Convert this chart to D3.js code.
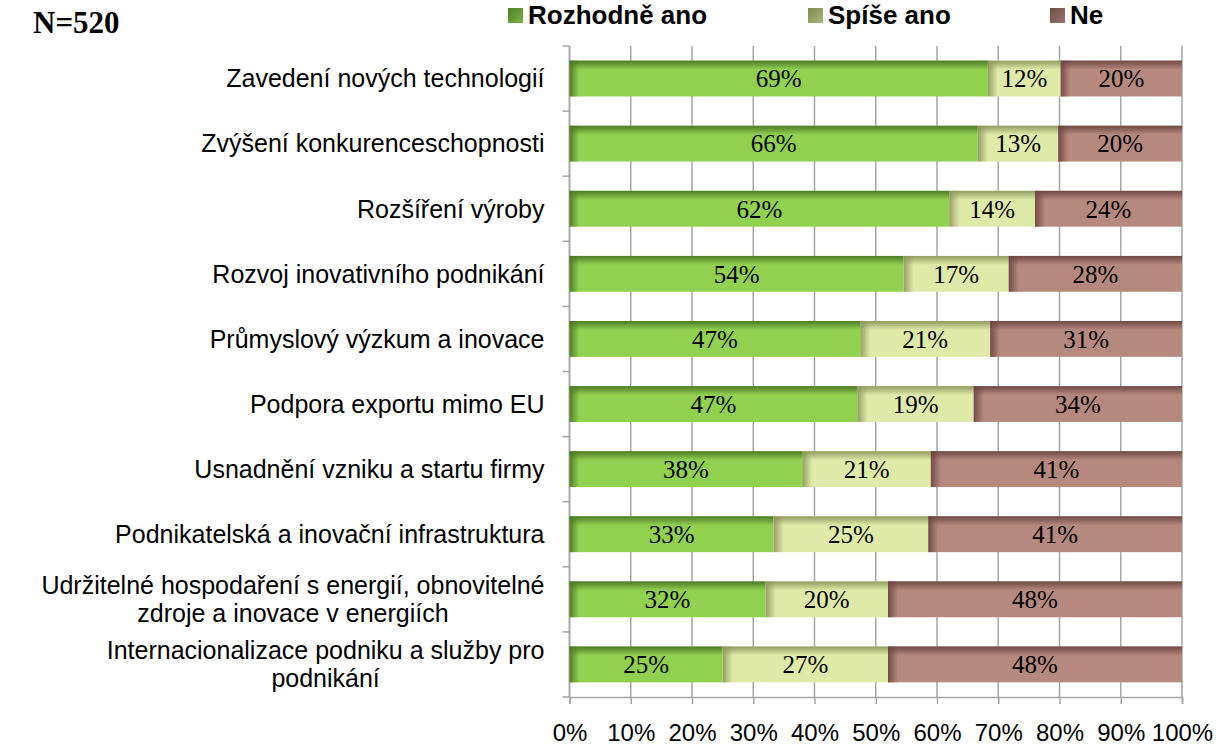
<!DOCTYPE html>
<html>
<head>
<meta charset="utf-8">
<script src="https://cdn.jsdelivr.net/npm/d3@7"></script>
<style>
	body { margin: 0; background: #fff; }
	svg { display: block; }
</style>
</head>
<body>
<div class="svg-container"></div>
<script>
(function () {

	"use strict";

	// data
	var categories = [
		"Zavedení nových technologií",
		"Zvýšení konkurenceschopnosti",
		"Rozšíření výroby ",
		"Rozvoj inovativního podnikání",
		"Průmyslový výzkum a inovace",
		"Podpora exportu mimo EU",
		"Usnadnění vzniku a startu firmy",
		"Podnikatelská a inovační infrastruktura",
		"Udržitelné hospodaření s energií, obnovitelné|zdroje a inovace v energiích",
		"Internacionalizace podniku a služby pro|podnikání"
	];
	var series_names 	= [ "Rozhodně ano", "Spíše ano", "Ne" ];
	var rozhodne_ano 	= [ 69, 66, 62, 54, 47, 47, 38, 33, 32, 25 ];
	var spise_ano 		= [ 12, 13, 14, 17, 21, 19, 21, 25, 20, 27 ];
	var ne 				= [ 20, 20, 24, 28, 31, 34, 41, 41, 48, 48 ];
	var x_ticks 		= [ 0, .1, .2, .3, .4, .5, .6, .7, .8, .9, 1 ];

	// colors
	var fills 	= [ "#92d050", "#dfeaa9", "#b5897e" ];
	var shades 	= [ "#4a7524", "#8c965c", "#6a4640" ];
	var legend_fills = [ [ "#4e7d28", "#7fb243" ], [ "#7d8a52", "#a9b878" ], [ "#6e4c46", "#9a7570" ] ];

	var sans = "'Liberation Sans', Arial, sans-serif",
		serif = "'Liberation Serif', 'Times New Roman', serif";

	var canvas_width 	= 1225,
		canvas_height 	= 748,
		margin 			= { "top": 46, "right": 43, "bottom": 51, "left": 569.5 };

	var width = canvas_width - margin.left - margin.right,
		height = canvas_height - margin.top - margin.bottom;

	var rows = categories.map(function (c, i) {
		return { "cat": c, "0": rozhodne_ano[i], "1": spise_ano[i], "2": ne[i] };
	});

	var stack = d3.stack()
		.keys([ "0", "1", "2" ])
		.offset(d3.stackOffsetExpand);
	var layers = stack(rows);

	var x = d3.scaleLinear().domain([0, 1]).range([0, width]);
	var y = d3.scaleBand().domain(categories).range([0, height]).paddingInner(.45).paddingOuter(.225);

	var svg = d3.select(".svg-container").append("svg")
		.attr("width", canvas_width)
		.attr("height", canvas_height);

	var defs = svg.append("defs");
	fills.forEach(function (f, i) {
		var top = defs.append("linearGradient").attr("id", "top" + i)
			.attr("x1", 0).attr("y1", 0).attr("x2", 0).attr("y2", 1);
		top.append("stop").attr("offset", "0%").attr("stop-color", shades[i]).attr("stop-opacity", .95);
		top.append("stop").attr("offset", "100%").attr("stop-color", shades[i]).attr("stop-opacity", 0);
		var left = defs.append("linearGradient").attr("id", "left" + i)
			.attr("x1", 0).attr("y1", 0).attr("x2", 1).attr("y2", 0);
		left.append("stop").attr("offset", "0%").attr("stop-color", shades[i]).attr("stop-opacity", .9);
		left.append("stop").attr("offset", "100%").attr("stop-color", shades[i]).attr("stop-opacity", 0);
		var leg = defs.append("linearGradient").attr("id", "leg" + i)
			.attr("x1", 0).attr("y1", 0).attr("x2", 1).attr("y2", 1);
		leg.append("stop").attr("offset", "0%").attr("stop-color", legend_fills[i][0]);
		leg.append("stop").attr("offset", "100%").attr("stop-color", legend_fills[i][1]);
	});

	var g = svg.append("g")
		.attr("transform", "translate(" + margin.left + "," + margin.top + ")");

	// grid
	g.selectAll(".grid")
		.data(x_ticks)
		.enter()
		.append("line")
		.attr("class", "grid")
		.attr("x1", function (d) { return x(d); })
		.attr("x2", function (d) { return x(d); })
		.attr("y1", 0)
		.attr("y2", height)
		.attr("stroke", "#a5a5a5")
		.attr("stroke-width", 1.5);

	// x axis
	var xAxis = g.append("g")
		.attr("transform", "translate(0," + height + ")")
		.call(d3.axisBottom(x).tickValues(x_ticks).tickFormat(d3.format(".0%")).tickSize(7).tickPadding(20));
	xAxis.selectAll("line, path").attr("stroke", "#a5a5a5").attr("stroke-width", 1.5);
	xAxis.selectAll("text")
		.attr("font-family", sans)
		.attr("font-size", 24)
		.attr("fill", "#000");

	// y axis line + boundary ticks
	g.append("line")
		.attr("x1", 0).attr("x2", 0).attr("y1", 0).attr("y2", height)
		.attr("stroke", "#a5a5a5").attr("stroke-width", 1.5);
	g.selectAll(".ytick")
		.data(d3.range(categories.length + 1))
		.enter()
		.append("line")
		.attr("class", "ytick")
		.attr("x1", -7).attr("x2", 0)
		.attr("y1", function (d) { return d * y.step(); })
		.attr("y2", function (d) { return d * y.step(); })
		.attr("stroke", "#a5a5a5").attr("stroke-width", 1.5);

	// bars
	var layer = g.selectAll(".layer")
		.data(layers)
		.enter()
		.append("g")
		.attr("class", "layer");

	var seg = layer.selectAll(".seg")
		.data(function (d) { return d.map(function (p) { p.key = d.key; return p; }); })
		.enter()
		.append("g")
		.attr("class", "seg");

	seg.append("rect")
		.attr("x", function (d) { return x(d[0]); })
		.attr("y", function (d) { return y(d.data.cat); })
		.attr("width", function (d) { return x(d[1]) - x(d[0]); })
		.attr("height", y.bandwidth())
		.attr("fill", function (d) { return fills[+d.key]; });

	seg.append("rect")
		.attr("x", function (d) { return x(d[0]); })
		.attr("y", function (d) { return y(d.data.cat); })
		.attr("width", function (d) { return x(d[1]) - x(d[0]); })
		.attr("height", y.bandwidth() * .25)
		.attr("fill", function (d) { return "url(#top" + d.key + ")"; });

	seg.append("rect")
		.attr("x", function (d) { return x(d[0]); })
		.attr("y", function (d) { return y(d.data.cat); })
		.attr("width", function (d) { return Math.min(10, x(d[1]) - x(d[0])); })
		.attr("height", y.bandwidth())
		.attr("fill", function (d) { return "url(#left" + d.key + ")"; });

	seg.append("text")
		.attr("x", function (d) { return (x(d[0]) + x(d[1])) / 2; })
		.attr("y", function (d) { return y(d.data.cat) + y.bandwidth() / 2; })
		.attr("dy", "0.35em")
		.attr("text-anchor", "middle")
		.attr("font-family", serif)
		.attr("font-size", 25)
		.attr("fill", "#000")
		.text(function (d) { return d.data[d.key] + "%"; });

	// category labels (wrapped lines are centred on each other, block right-aligned)
	var line_h = 28;
	var labels = g.selectAll(".cat")
		.data(categories)
		.enter()
		.append("text")
		.attr("class", "cat")
		.attr("font-family", sans)
		.attr("font-size", 25)
		.attr("fill", "#000")
		.attr("text-anchor", "middle");

	labels.each(function (d) {
		var el = d3.select(this),
			lines = d.split("|"),
			cy = y(d) + y.bandwidth() / 2,
			tmp = [];
		lines.forEach(function (l, i) {
			tmp.push(el.append("tspan").text(l)
				.attr("y", cy + (i - (lines.length - 1) / 2) * line_h)
				.attr("dy", "0.35em"));
		});
		var w = d3.max(tmp, function (t) { return t.node().getComputedTextLength(); });
		var cx = -25 - w / 2;
		tmp.forEach(function (t) { t.attr("x", cx); });
	});

	// title
	svg.append("text")
		.attr("x", 33)
		.attr("y", 33)
		.attr("font-family", serif)
		.attr("font-weight", "bold")
		.attr("font-size", 31)
		.text("N=520");

	// legend
	var legend_x = [ 508, 808, 1050 ];
	var legend = svg.selectAll(".legend")
		.data(series_names)
		.enter()
		.append("g")
		.attr("class", "legend")
		.attr("transform", function (d, i) { return "translate(" + legend_x[i] + ",8)"; });

	legend.append("rect")
		.attr("width", 15).attr("height", 15)
		.attr("fill", function (d, i) { return "url(#leg" + i + ")"; });

	legend.append("text")
		.attr("x", 20)
		.attr("y", 7)
		.attr("dy", "0.35em")
		.attr("font-family", sans)
		.attr("font-weight", "bold")
		.attr("font-size", 26)
		.text(function (d) { return d; });

})();
</script>
</body>
</html>
